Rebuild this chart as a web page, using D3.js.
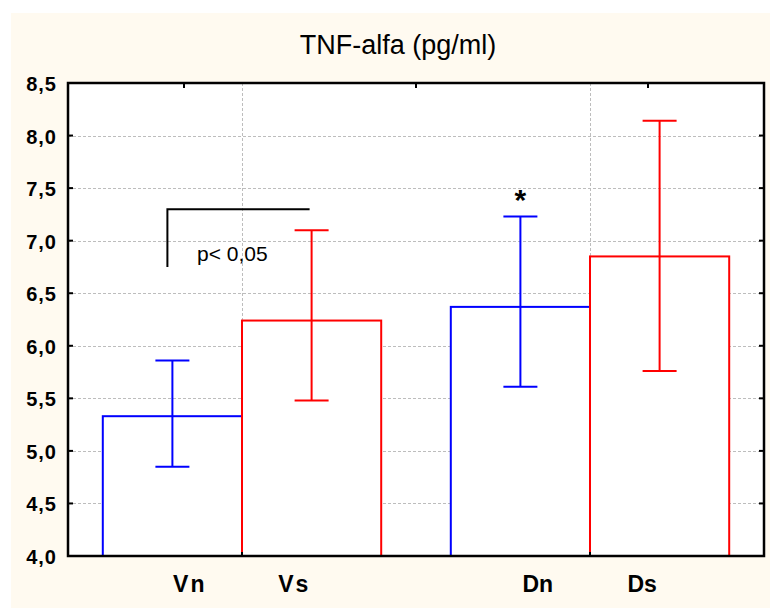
<!DOCTYPE html>
<html>
<head>
<meta charset="utf-8">
<script src="https://cdn.jsdelivr.net/npm/d3@7"></script>
<style>
  html, body { margin: 0; padding: 0; background: #ffffff; }
  svg { display: block; font-family: Arial, "Liberation Sans", sans-serif; }
</style>
</head>
<body>
<svg id="chart" width="770" height="608"></svg>
<script>
// Group means with their error-bar limits (TNF-alfa, pg/ml)
const categories = ["Vn", "Vs", "Dn", "Ds"];
const groups = ["V", "D"];
const means = [5.33, 6.24, 6.37, 6.85];
const upper = [5.86, 7.10, 7.23, 8.14];
const lower = [4.85, 5.48, 5.61, 5.76];
const yTicks = [4.0, 4.5, 5.0, 5.5, 6.0, 6.5, 7.0, 7.5, 8.0, 8.5];
const title = "TNF-alfa (pg/ml)";
const sigLabel = "p< 0,05";
const sigY = [7.30, 6.75];

const svg = d3.select("#chart");
const W = 770, H = 608;
const plot = { left: 68, right: 764, top: 83, bottom: 556 };

// panel background
svg.append("rect").attr("x", 11).attr("y", 13).attr("width", W - 11).attr("height", H - 13)
  .attr("fill", "#fffaf0");

// x runs over 4 units: group centres at 1 and 3, each bar 0.8 wide
const x = d3.scaleLinear().domain([0, 4]).range([plot.left, plot.right]);
const y = d3.scaleLinear().domain([4, 8.5]).range([plot.bottom, plot.top]);
const barW = 0.8;
const groupCenter = i => (Math.floor(i / 2) === 0 ? 1 : 3);
const barLeft = i => groupCenter(i) + (i % 2 === 0 ? -barW : 0);
const barMid = i => barLeft(i) + barW / 2;
const colorOf = i => (i % 2 === 0 ? "#0000ff" : "#ff0000");

// plot area
svg.append("rect").attr("x", plot.left).attr("y", plot.top)
  .attr("width", plot.right - plot.left).attr("height", plot.bottom - plot.top)
  .attr("fill", "#ffffff");

// grid
const grid = svg.append("g").attr("stroke", "#bdbdbd").attr("stroke-width", 1)
  .attr("stroke-dasharray", "3,2");
grid.selectAll("line.h").data(yTicks.filter(v => v > 4 && v < 8.5)).join("line")
  .attr("class", "h")
  .attr("x1", plot.left).attr("x2", plot.right)
  .attr("y1", d => Math.round(y(d)) + 0.5).attr("y2", d => Math.round(y(d)) + 0.5);
grid.selectAll("line.v").data(groups.map((g, i) => i * 2 + 1)).join("line")
  .attr("class", "v")
  .attr("x1", d => Math.round(x(d)) + 0.5).attr("x2", d => Math.round(x(d)) + 0.5)
  .attr("y1", plot.top).attr("y2", plot.bottom);

// bars
svg.append("g").selectAll("rect").data(categories).join("rect")
  .attr("x", (d, i) => x(barLeft(i)))
  .attr("y", (d, i) => y(means[i]))
  .attr("width", x(barW) - x(0))
  .attr("height", (d, i) => y(4) - y(means[i]))
  .attr("fill", "#ffffff")
  .attr("stroke", (d, i) => colorOf(i))
  .attr("stroke-width", 2);

// error bars
const capHalf = 17;
const eb = svg.append("g").attr("stroke-width", 2);
categories.forEach((c, i) => {
  const cx = x(barMid(i));
  const col = colorOf(i);
  eb.append("line").attr("x1", cx).attr("x2", cx)
    .attr("y1", y(upper[i])).attr("y2", y(lower[i])).attr("stroke", col);
  [upper[i], lower[i]].forEach(v => {
    eb.append("line").attr("x1", cx - capHalf).attr("x2", cx + capHalf)
      .attr("y1", y(v)).attr("y2", y(v)).attr("stroke", col);
  });
});

// frame and inward ticks
const axisG = svg.append("g").attr("stroke", "#000");
axisG.append("rect").attr("x", plot.left).attr("y", plot.top)
  .attr("width", plot.right - plot.left).attr("height", plot.bottom - plot.top)
  .attr("fill", "none").attr("stroke-width", 2.5);
yTicks.forEach(v => {
  axisG.append("line").attr("x1", plot.left).attr("x2", plot.left + 5)
    .attr("y1", y(v)).attr("y2", y(v)).attr("stroke-width", 2);
  axisG.append("line").attr("x1", plot.right - 5).attr("x2", plot.right)
    .attr("y1", y(v)).attr("y2", y(v)).attr("stroke-width", 2);
});
[2 / 3, 2, 10 / 3].forEach(t => {
  axisG.append("line").attr("x1", x(t)).attr("x2", x(t))
    .attr("y1", plot.top).attr("y2", plot.top + 5).attr("stroke-width", 2);
});
[1, 3].forEach(t => {
  axisG.append("line").attr("x1", x(t)).attr("x2", x(t))
    .attr("y1", plot.bottom - 4).attr("y2", plot.bottom).attr("stroke-width", 2);
});

// y tick labels
svg.append("g").selectAll("text").data(yTicks).join("text")
  .attr("x", 57).attr("y", d => y(d) + 8)
  .attr("text-anchor", "end")
  .attr("font-size", 20).attr("font-weight", "bold")
  .attr("letter-spacing", 1)
  .attr("fill", "#000")
  .text(d => d.toFixed(1).replace(".", ","));

// category labels
const labelOffset = 0.3;
svg.append("g").selectAll("text").data(categories).join("text")
  .attr("x", (d, i) => x(groupCenter(i) + (i % 2 === 0 ? -labelOffset : labelOffset)))
  .attr("y", 592)
  .attr("text-anchor", "middle")
  .attr("font-size", 23).attr("font-weight", "bold")
  .attr("letter-spacing", (d, i) => (i < 2 ? 2 : 0))
  .attr("fill", "#000")
  .text(d => d);

// title
svg.append("text").attr("x", 398).attr("y", 54)
  .attr("text-anchor", "middle").attr("font-size", 27).attr("fill", "#000")
  .text(title);

// significance bracket between Vn and Vs
const bx1 = x(barMid(0)) - 5, bx2 = x(barMid(1)) - 2;
svg.append("path")
  .attr("d", `M${bx1},${y(sigY[1])}V${y(sigY[0])}H${bx2}`)
  .attr("fill", "none").attr("stroke", "#000").attr("stroke-width", 2);
svg.append("text").attr("x", 197).attr("y", 261)
  .attr("font-size", 21).attr("fill", "#000").text(sigLabel);

// asterisk above Dn
svg.append("text").attr("x", x(barMid(2))).attr("y", 210)
  .attr("text-anchor", "middle").attr("font-size", 30).attr("font-weight", "bold")
  .attr("fill", "#000").text("*");
</script>
</body>
</html>
